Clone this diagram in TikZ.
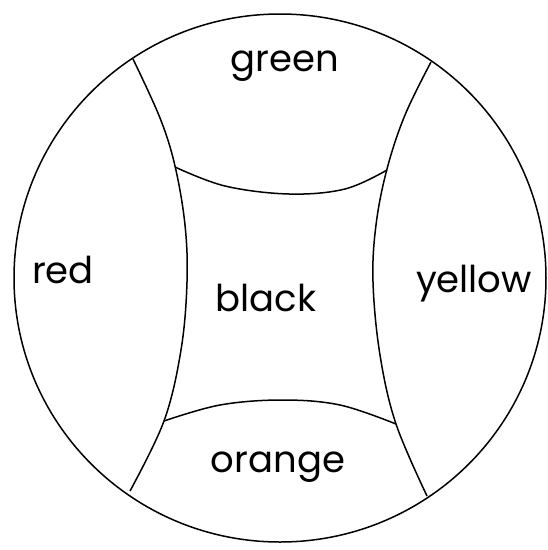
\documentclass[tikz,border=0pt]{standalone}
\usepackage{fontspec}
\setmainfont{Poppins}
\begin{document}
\begin{tikzpicture}[x=1pt,y=-1pt,
  edge/.style={line width=1.5pt, black},
  lbl/.style={font=\fontsize{37}{42}\selectfont, inner sep=0pt}]
\useasboundingbox (0,0) rectangle (548,550);
\draw[edge] (280,278) ellipse [x radius=266, y radius=264];
% left and right dividing curves
\draw[edge] plot[smooth, tension=0.6] coordinates {(133,59) (160,118) (175,166) (185,225) (187,282) (181,350) (164,421) (130,491)};
\draw[edge] plot[smooth, tension=0.6] coordinates {(431,62) (405,115) (387,169) (376,225) (373,282) (380,355) (396,424) (427,496)};
% inner top and bottom curves
\draw[edge] plot[smooth, tension=0.6] coordinates {(175,167) (225,186) (289,194) (345,189) (387,170)};
\draw[edge] plot[smooth, tension=0.6] coordinates {(164,421) (220,405) (282,400) (340,405) (396,424)};
% labels
\node[lbl] (green) at (285,66) {green};
\node[lbl] (red) at (63,270) {red};
\node[lbl] (black) at (266,298) {black};
\node[lbl] (yellow) at (474,284) {yellow};
\node[lbl] (orange) at (278,467) {orange};
\end{tikzpicture}
\end{document}
